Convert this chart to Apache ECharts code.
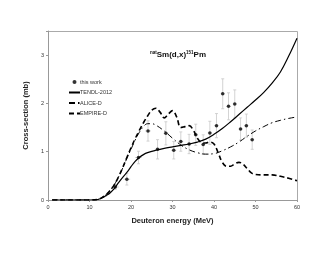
<!DOCTYPE html>
<html><head><meta charset="utf-8">
<script src="https://cdn.jsdelivr.net/npm/echarts@6/dist/echarts.min.js"></script>
<style>html,body{margin:0;padding:0;background:#fff}#c{width:330px;height:255px}</style>
</head><body><div id="c"></div>
<script>
var tendlE = [1,5,10,12,13,14,15,16,17,18,19,20,21,22,23,24,26,28,30,32,34,36,38,40,42,44,46,48,50,52,54,56,58,60];
var tendlY = [0,0,0,0.01,0.04,0.09,0.15,0.24,0.36,0.47,0.57,0.69,0.8,0.88,0.94,0.98,1.03,1.07,1.1,1.13,1.16,1.2,1.26,1.36,1.48,1.62,1.77,1.92,2.07,2.23,2.42,2.65,2.98,3.35];
var aliceE = [1,5,10,12,13,14,15,16,17,18,19,20,21,22,23,24,25,26,28,30,32,34,36,38,40,42,44,46,48,50,52,54,56,58,60];
var aliceY = [0,0,0,0.01,0.05,0.11,0.2,0.32,0.48,0.66,0.86,1.05,1.24,1.4,1.52,1.58,1.58,1.55,1.43,1.28,1.14,1.04,0.98,0.95,0.96,1.02,1.1,1.2,1.32,1.43,1.52,1.6,1.65,1.69,1.72];
var empireE = [1,5,10,12,13,14,15,16,17,18,19,20,21,22,23,24,25,26,27,28,29,30,31,32,33,34,35,36,37,38,39,40,41,42,43,44,45,46,47,48,49,50,52,54,56,58,60];
var empireY = [0,0,0,0.01,0.05,0.11,0.2,0.32,0.48,0.67,0.88,1.08,1.27,1.44,1.6,1.74,1.86,1.9,1.82,1.7,1.78,1.85,1.72,1.5,1.52,1.54,1.45,1.28,1.19,1.18,1.2,1.16,0.98,0.78,0.7,0.7,0.75,0.78,0.74,0.65,0.56,0.53,0.52,0.52,0.49,0.45,0.4];
var expE  = [16.2,19.0,21.8,24.1,26.4,28.4,30.3,32.0,34.0,35.6,37.4,39.0,40.6,42.1,43.5,45.0,46.4,47.8,49.2];
var expY  = [0.27,0.43,0.88,1.43,1.05,1.38,1.03,1.21,1.16,1.35,1.15,1.39,1.54,2.20,1.94,1.99,1.47,1.54,1.25];
var expDY = [0.05,0.12,0.13,0.21,0.2,0.24,0.18,0.2,0.2,0.22,0.2,0.24,0.25,0.31,0.28,0.29,0.23,0.24,0.2];
var expDX = [0.9,0.8,0.8,0.7,0.7,0.6,0.6,0.6,0.6,0.5,0.5,0.5,0.5,0.5,0.5,0.5,0.5,0.5,0.5];
var xTicks = [0,10,20,30,40,50,60];
var yTicks = [0,1,2,3];
var xRange = [0,60];
var yRange = [0,3.5];

function pairs(a,b){return a.map(function(v,i){return [v,b[i]];});}
var errData = expE.map(function(e,i){return [e, expY[i], expDY[i], expDX[i]];});

var chart = echarts.init(document.getElementById('c'), null, {renderer:'canvas'});
var font = 'Arial, "Liberation Sans", sans-serif';
var hideSym = {color:'rgba(0,0,0,0)', borderWidth:0, opacity:0};
chart.setOption({
  animation:false,
  grid:{left:48, right:33, top:31, bottom:55, show:false},
  title:{
    text:'{s|nat}{b|Sm(d,x)}{s|151}{b|Pm}', left:173, top:45, textAlign:'center',
    textStyle:{rich:{
      s:{fontSize:4.5, fontWeight:'bold', fontFamily:font, color:'#111', verticalAlign:'top', padding:[0,0,4,0]},
      b:{fontSize:8, fontWeight:'bold', fontFamily:font, color:'#111'}
    }}
  },
  legend:{
    orient:'vertical', left:63, top:74, itemGap:4.5, itemWidth:11, itemHeight:4,
    textStyle:{fontSize:5.5, fontFamily:font, color:'#333', padding:[0,0,0,-5]},
    data:[{name:'this work', icon:'circle'},
          {name:'TENDL-2012', itemStyle:hideSym},
          {name:'ALICE-D', itemStyle:hideSym},
          {name:'EMPIRE-D', itemStyle:hideSym}]
  },
  xAxis:{
    type:'value', min:xRange[0], max:xRange[1], interval:10,
    name:'Deuteron energy (MeV)', nameLocation:'middle', nameGap:17,
    nameTextStyle:{fontSize:7.5, fontWeight:'bold', fontFamily:font, color:'#222'},
    axisLine:{show:true, onZero:false, lineStyle:{color:'#999'}}, axisTick:{show:true, length:2, lineStyle:{color:'#999'}},
    axisLabel:{fontSize:5.5, fontFamily:font, color:'#333', margin:4},
    splitLine:{show:false}
  },
  yAxis:{
    type:'value', min:yRange[0], max:yRange[1], interval:1,
    name:'Cross-section (mb)', nameLocation:'middle', nameGap:13, nameRotate:90,
    nameTextStyle:{fontSize:7.5, fontWeight:'bold', fontFamily:font, color:'#222'},
    axisLine:{show:true, onZero:false, lineStyle:{color:'#999'}}, axisTick:{show:true, length:2, lineStyle:{color:'#999'}},
    axisLabel:{fontSize:5.5, fontFamily:font, color:'#333', margin:4,
      formatter:function(v){return yTicks.indexOf(v)>=0 ? String(v) : '';}},
    splitLine:{show:false}
  },
  series:[
    {name:'TENDL-2012', type:'line', data:pairs(tendlE,tendlY), smooth:0.4, symbol:'none',
      lineStyle:{color:'#000', width:1.2, type:'solid'}, itemStyle:{color:'#000'}, z:3},
    {name:'ALICE-D', type:'line', data:pairs(aliceE,aliceY), smooth:0.4, symbol:'none',
      lineStyle:{color:'#000', width:1, type:[6,3,1.5,3]}, itemStyle:{color:'#000'}, z:3},
    {name:'EMPIRE-D', type:'line', data:pairs(empireE,empireY), smooth:0.4, symbol:'none',
      lineStyle:{color:'#000', width:1.6, type:[5,3]}, itemStyle:{color:'#000'}, z:3},
    {name:'errbars', type:'custom', data:errData, z:2, silent:true,
      renderItem:function(params, api){
        var x=api.value(0), y=api.value(1), dy=api.value(2), dx=api.value(3);
        var top=api.coord([x,y+dy]), bot=api.coord([x,y-dy]);
        var l=api.coord([x-dx,y]), r=api.coord([x+dx,y]);
        var st={stroke:'#c8c8c8', lineWidth:0.8};
        return {type:'group', children:[
          {type:'line', shape:{x1:top[0],y1:top[1],x2:bot[0],y2:bot[1]}, style:st},
          {type:'line', shape:{x1:top[0]-1.5,y1:top[1],x2:top[0]+1.5,y2:top[1]}, style:st},
          {type:'line', shape:{x1:bot[0]-1.5,y1:bot[1],x2:bot[0]+1.5,y2:bot[1]}, style:st},
          {type:'line', shape:{x1:l[0],y1:l[1],x2:r[0],y2:r[1]}, style:st}
        ]};
      }},
    {name:'this work', type:'scatter', data:pairs(expE,expY), symbol:'circle', symbolSize:3.5,
      itemStyle:{color:'#000'}, z:5}
  ]
});
var p0 = chart.convertToPixel({gridIndex:0}, [xRange[0], yRange[1]]);
var p1 = chart.convertToPixel({gridIndex:0}, [xRange[1], yRange[0]]);
chart.setOption({graphic:[{type:'rect', silent:true, z:0,
  shape:{x:Math.round(p0[0])+0.5, y:Math.round(p0[1])+0.5, width:Math.round(p1[0]-p0[0]), height:Math.round(p1[1]-p0[1])},
  style:{fill:'none', stroke:'#aaa', lineWidth:1}}]});
</script></body></html>
